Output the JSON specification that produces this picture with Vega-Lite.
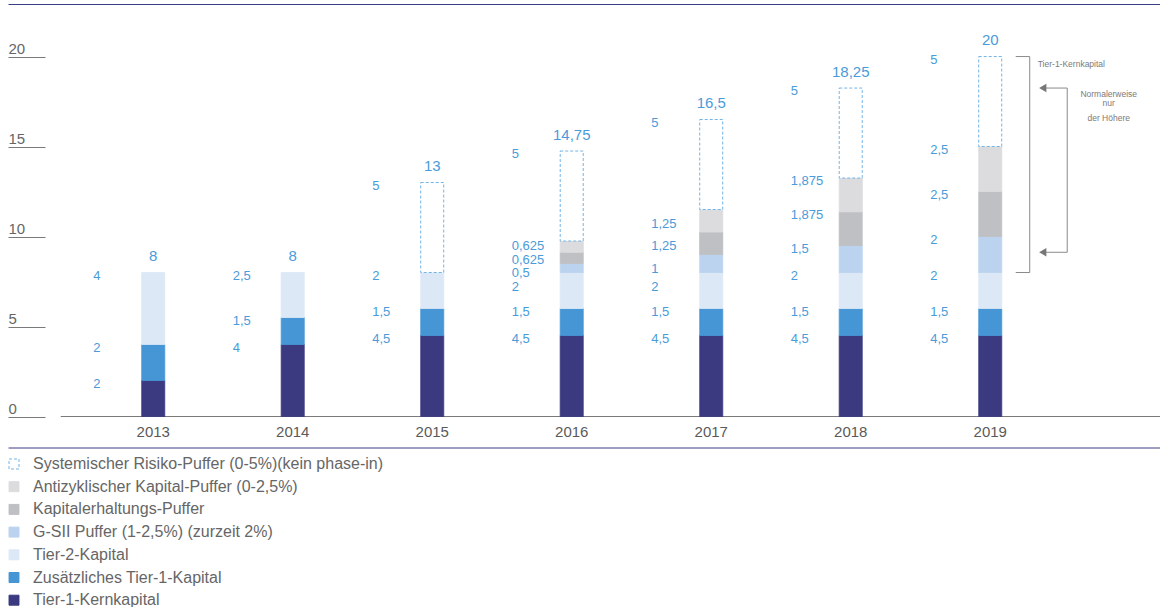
{
  "$schema": "https://vega.github.io/schema/vega-lite/v6.json",
  "width": 1152,
  "height": 412.5,
  "autosize": {"type": "none"},
  "padding": {"left": 8, "top": 4, "right": 0, "bottom": 190.5},
  "background": "white",
  "config": {
    "view": {"stroke": null},
    "font": "Liberation Sans",
    "locale": {"number": {"decimal": ",", "thousands": ".", "grouping": [3], "currency": ["", " €"]}}
  },
  "datasets": {
    "stackorder": [
      {"series": "Tier-1-Kernkapital", "rank": 1},
      {"series": "Zusätzliches Tier-1-Kapital", "rank": 2},
      {"series": "Tier-2-Kapital", "rank": 3},
      {"series": "G-SII Puffer (1-2,5%) (zurzeit 2%)", "rank": 4},
      {"series": "Kapitalerhaltungs-Puffer", "rank": 5},
      {"series": "Antizyklischer Kapital-Puffer (0-2,5%)", "rank": 6},
      {"series": "Systemischer Risiko-Puffer (0-5%)(kein phase-in)", "rank": 7}
    ],
    "capital": [
      {"year": "2013", "series": "Tier-1-Kernkapital", "value": 2},
      {"year": "2013", "series": "Zusätzliches Tier-1-Kapital", "value": 2},
      {"year": "2013", "series": "Tier-2-Kapital", "value": 4},
      {"year": "2014", "series": "Tier-1-Kernkapital", "value": 4},
      {"year": "2014", "series": "Zusätzliches Tier-1-Kapital", "value": 1.5},
      {"year": "2014", "series": "Tier-2-Kapital", "value": 2.5},
      {"year": "2015", "series": "Tier-1-Kernkapital", "value": 4.5},
      {"year": "2015", "series": "Zusätzliches Tier-1-Kapital", "value": 1.5},
      {"year": "2015", "series": "Tier-2-Kapital", "value": 2},
      {"year": "2015", "series": "Systemischer Risiko-Puffer (0-5%)(kein phase-in)", "value": 5},
      {"year": "2016", "series": "Tier-1-Kernkapital", "value": 4.5},
      {"year": "2016", "series": "Zusätzliches Tier-1-Kapital", "value": 1.5},
      {"year": "2016", "series": "Tier-2-Kapital", "value": 2},
      {"year": "2016", "series": "G-SII Puffer (1-2,5%) (zurzeit 2%)", "value": 0.5},
      {"year": "2016", "series": "Kapitalerhaltungs-Puffer", "value": 0.625},
      {"year": "2016", "series": "Antizyklischer Kapital-Puffer (0-2,5%)", "value": 0.625},
      {"year": "2016", "series": "Systemischer Risiko-Puffer (0-5%)(kein phase-in)", "value": 5},
      {"year": "2017", "series": "Tier-1-Kernkapital", "value": 4.5},
      {"year": "2017", "series": "Zusätzliches Tier-1-Kapital", "value": 1.5},
      {"year": "2017", "series": "Tier-2-Kapital", "value": 2},
      {"year": "2017", "series": "G-SII Puffer (1-2,5%) (zurzeit 2%)", "value": 1},
      {"year": "2017", "series": "Kapitalerhaltungs-Puffer", "value": 1.25},
      {"year": "2017", "series": "Antizyklischer Kapital-Puffer (0-2,5%)", "value": 1.25},
      {"year": "2017", "series": "Systemischer Risiko-Puffer (0-5%)(kein phase-in)", "value": 5},
      {"year": "2018", "series": "Tier-1-Kernkapital", "value": 4.5},
      {"year": "2018", "series": "Zusätzliches Tier-1-Kapital", "value": 1.5},
      {"year": "2018", "series": "Tier-2-Kapital", "value": 2},
      {"year": "2018", "series": "G-SII Puffer (1-2,5%) (zurzeit 2%)", "value": 1.5},
      {"year": "2018", "series": "Kapitalerhaltungs-Puffer", "value": 1.875},
      {"year": "2018", "series": "Antizyklischer Kapital-Puffer (0-2,5%)", "value": 1.875},
      {"year": "2018", "series": "Systemischer Risiko-Puffer (0-5%)(kein phase-in)", "value": 5},
      {"year": "2019", "series": "Tier-1-Kernkapital", "value": 4.5},
      {"year": "2019", "series": "Zusätzliches Tier-1-Kapital", "value": 1.5},
      {"year": "2019", "series": "Tier-2-Kapital", "value": 2},
      {"year": "2019", "series": "G-SII Puffer (1-2,5%) (zurzeit 2%)", "value": 2},
      {"year": "2019", "series": "Kapitalerhaltungs-Puffer", "value": 2.5},
      {"year": "2019", "series": "Antizyklischer Kapital-Puffer (0-2,5%)", "value": 2.5},
      {"year": "2019", "series": "Systemischer Risiko-Puffer (0-5%)(kein phase-in)", "value": 5}
    ]
  },
  "data": {"name": "capital"},
  "transform": [
    {"lookup": "series", "from": {"data": {"name": "stackorder"}, "key": "series", "fields": ["rank"]}},
    {"stack": "value", "groupby": ["year"], "sort": [{"field": "rank", "order": "ascending"}], "as": ["v0", "v1"]}
  ],
  "layer": [
    {
      "data": {"values": [{}]},
      "mark": {"type": "rule", "color": "#7a7a7a", "strokeWidth": 1, "xOffset": -92.5, "x2Offset": 170.5},
      "encoding": {
        "x": {"datum": "2013", "type": "ordinal", "bandPosition": 0.5, "axis": null},
        "x2": {"datum": "2019", "bandPosition": 0.5},
        "y": {"datum": 0, "type": "quantitative"}
      }
    },
    {
      "mark": {"type": "bar", "size": 23, "strokeWidth": 1},
      "encoding": {
        "x": {
          "field": "year", "type": "ordinal",
          "scale": {"domain": ["2013", "2014", "2015", "2016", "2017", "2018", "2019"], "paddingInner": 0.742, "paddingOuter": 1, "align": 0.456},
          "axis": {"orient": "bottom", "offset": 31, "ticks": false, "tickSize": 0, "labelPadding": -16, "labelBaseline": "middle", "labelAngle": 0, "labelFontSize": 15, "labelColor": "#5a5a5a", "domainColor": "#3b3d82", "domainWidth": 1, "title": null}
        },
        "y": {
          "field": "v1", "type": "quantitative",
          "scale": {"domain": [0, 22.92], "nice": false},
          "axis": {"orient": "left", "offset": -37, "tickSize": 37, "tickColor": "#7a7a7a", "tickWidth": 1, "domain": false, "grid": false, "values": [0, 5, 10, 15, 20], "labelAlign": "left", "labelBaseline": "alphabetic", "labelPadding": 0, "labelOffset": -3, "labelFontSize": 15, "labelColor": "#666666", "labelFlush": false, "title": null}
        },
        "y2": {"field": "v0"},
        "fill": {
          "field": "series", "type": "nominal",
          "scale": {
            "domain": ["Tier-1-Kernkapital", "Zusätzliches Tier-1-Kapital", "Tier-2-Kapital", "G-SII Puffer (1-2,5%) (zurzeit 2%)", "Kapitalerhaltungs-Puffer", "Antizyklischer Kapital-Puffer (0-2,5%)", "Systemischer Risiko-Puffer (0-5%)(kein phase-in)"],
            "range": ["#3b3a80", "#4696d6", "#dce8f6", "#bcd3ef", "#bfc0c3", "#dcdcde", "#ffffff"]
          },
          "legend": {
            "title": null, "orient": "none", "legendX": -2, "legendY": 452, "padding": 0,
            "values": ["Systemischer Risiko-Puffer (0-5%)(kein phase-in)", "Antizyklischer Kapital-Puffer (0-2,5%)", "Kapitalerhaltungs-Puffer", "G-SII Puffer (1-2,5%) (zurzeit 2%)", "Tier-2-Kapital", "Zusätzliches Tier-1-Kapital", "Tier-1-Kernkapital"],
            "symbolType": "square", "symbolSize": 100, "symbolStrokeWidth": 1,
            "labelFontSize": 16, "labelColor": "#666666", "labelOffset": 11, "rowPadding": 6.7, "labelLimit": 600
          }
        },
        "stroke": {
          "field": "series", "type": "nominal",
          "scale": {
            "domain": ["Tier-1-Kernkapital", "Zusätzliches Tier-1-Kapital", "Tier-2-Kapital", "G-SII Puffer (1-2,5%) (zurzeit 2%)", "Kapitalerhaltungs-Puffer", "Antizyklischer Kapital-Puffer (0-2,5%)", "Systemischer Risiko-Puffer (0-5%)(kein phase-in)"],
            "range": ["#3b3a80", "#4696d6", "#dce8f6", "#bcd3ef", "#bfc0c3", "#dcdcde", "#72b4e6"]
          },
          "legend": {
            "title": null, "orient": "none", "legendX": -2, "legendY": 452, "padding": 0,
            "values": ["Systemischer Risiko-Puffer (0-5%)(kein phase-in)", "Antizyklischer Kapital-Puffer (0-2,5%)", "Kapitalerhaltungs-Puffer", "G-SII Puffer (1-2,5%) (zurzeit 2%)", "Tier-2-Kapital", "Zusätzliches Tier-1-Kapital", "Tier-1-Kernkapital"],
            "symbolType": "square", "symbolSize": 100, "symbolStrokeWidth": 1,
            "labelFontSize": 16, "labelColor": "#666666", "labelOffset": 11, "rowPadding": 6.7, "labelLimit": 600
          }
        },
        "strokeDash": {
          "field": "series", "type": "nominal",
          "scale": {
            "domain": ["Tier-1-Kernkapital", "Zusätzliches Tier-1-Kapital", "Tier-2-Kapital", "G-SII Puffer (1-2,5%) (zurzeit 2%)", "Kapitalerhaltungs-Puffer", "Antizyklischer Kapital-Puffer (0-2,5%)", "Systemischer Risiko-Puffer (0-5%)(kein phase-in)"],
            "range": [[1, 0], [1, 0], [1, 0], [1, 0], [1, 0], [1, 0], [3, 2]]
          },
          "legend": {
            "title": null, "orient": "none", "legendX": -2, "legendY": 452, "padding": 0,
            "values": ["Systemischer Risiko-Puffer (0-5%)(kein phase-in)", "Antizyklischer Kapital-Puffer (0-2,5%)", "Kapitalerhaltungs-Puffer", "G-SII Puffer (1-2,5%) (zurzeit 2%)", "Tier-2-Kapital", "Zusätzliches Tier-1-Kapital", "Tier-1-Kernkapital"],
            "symbolType": "square", "symbolSize": 100, "symbolStrokeWidth": 1,
            "labelFontSize": 16, "labelColor": "#666666", "labelOffset": 11, "rowPadding": 6.7, "labelLimit": 600
          }
        }
      }
    },
    {
      "transform": [{"filter": {"not": {"and": [{"field": "year", "oneOf": ["2016", "2017"]}, {"field": "rank", "oneOf": [3, 4, 5, 6]}]}}}],
      "mark": {"type": "text", "align": "left", "baseline": "middle", "dx": -60, "dy": 3, "fontSize": 13, "color": "#4a9bd9"},
      "encoding": {
        "x": {"field": "year", "type": "ordinal", "axis": null},
        "y": {"field": "v1", "type": "quantitative"},
        "text": {"field": "value", "type": "quantitative", "format": "~g"}
      }
    },
    {
      "transform": [{"filter": {"or": [{"and": [{"field": "year", "equal": "2017"}, {"field": "rank", "oneOf": [3, 4, 5, 6]}]}, {"and": [{"field": "year", "equal": "2016"}, {"field": "rank", "equal": 3}]}]}}],
      "mark": {"type": "text", "align": "left", "baseline": "middle", "dx": -60, "dy": 14, "fontSize": 13, "color": "#4a9bd9"},
      "encoding": {
        "x": {"field": "year", "type": "ordinal", "axis": null},
        "y": {"field": "v1", "type": "quantitative"},
        "text": {"field": "value", "type": "quantitative", "format": "~g"}
      }
    },
    {
      "transform": [{"filter": {"and": [{"field": "year", "equal": "2016"}, {"field": "rank", "equal": 4}]}}],
      "mark": {"type": "text", "align": "left", "baseline": "middle", "dx": -60, "dy": 9.8, "fontSize": 13, "color": "#4a9bd9"},
      "encoding": {
        "x": {"field": "year", "type": "ordinal", "axis": null},
        "y": {"field": "v1", "type": "quantitative"},
        "text": {"field": "value", "type": "quantitative", "format": "~g"}
      }
    },
    {
      "transform": [{"filter": {"and": [{"field": "year", "equal": "2016"}, {"field": "rank", "equal": 5}]}}],
      "mark": {"type": "text", "align": "left", "baseline": "middle", "dx": -60, "dy": 8, "fontSize": 13, "color": "#4a9bd9"},
      "encoding": {
        "x": {"field": "year", "type": "ordinal", "axis": null},
        "y": {"field": "v1", "type": "quantitative"},
        "text": {"field": "value", "type": "quantitative", "format": "~g"}
      }
    },
    {
      "transform": [{"filter": {"and": [{"field": "year", "equal": "2016"}, {"field": "rank", "equal": 6}]}}],
      "mark": {"type": "text", "align": "left", "baseline": "middle", "dx": -60, "dy": 5, "fontSize": 13, "color": "#4a9bd9"},
      "encoding": {
        "x": {"field": "year", "type": "ordinal", "axis": null},
        "y": {"field": "v1", "type": "quantitative"},
        "text": {"field": "value", "type": "quantitative", "format": "~g"}
      }
    },
    {
      "transform": [{"aggregate": [{"op": "max", "field": "v1", "as": "total"}], "groupby": ["year"]}],
      "mark": {"type": "text", "align": "center", "baseline": "middle", "dy": -16.5, "fontSize": 15, "color": "#4a9bd9"},
      "encoding": {
        "x": {"field": "year", "type": "ordinal", "axis": {"orient": "top", "labels": false, "ticks": false, "domainColor": "#3b3d82", "domainWidth": 1, "title": null}},
        "y": {"field": "total", "type": "quantitative"},
        "text": {"field": "total", "type": "quantitative", "format": "~g"}
      }
    },
    {
      "data": {"values": [{}]},
      "mark": {"type": "rule", "color": "#8a8a8a", "strokeWidth": 1, "xOffset": 39.5},
      "encoding": {
        "x": {"datum": "2019", "type": "ordinal", "bandPosition": 0.5, "axis": null},
        "y": {"datum": 20, "type": "quantitative"},
        "y2": {"datum": 8}
      }
    },
    {
      "data": {"values": [{}]},
      "mark": {"type": "rule", "color": "#8a8a8a", "strokeWidth": 1, "xOffset": 25.5, "x2Offset": 39.5},
      "encoding": {
        "x": {"datum": "2019", "type": "ordinal", "bandPosition": 0.5, "axis": null},
        "x2": {"datum": "2019", "bandPosition": 0.5},
        "y": {"datum": 20, "type": "quantitative"}
      }
    },
    {
      "data": {"values": [{}]},
      "mark": {"type": "rule", "color": "#8a8a8a", "strokeWidth": 1, "xOffset": 25.5, "x2Offset": 39.5},
      "encoding": {
        "x": {"datum": "2019", "type": "ordinal", "bandPosition": 0.5, "axis": null},
        "x2": {"datum": "2019", "bandPosition": 0.5},
        "y": {"datum": 8, "type": "quantitative"}
      }
    },
    {
      "data": {"values": [{}]},
      "mark": {"type": "rule", "color": "#8a8a8a", "strokeWidth": 1, "xOffset": 77},
      "encoding": {
        "x": {"datum": "2019", "type": "ordinal", "bandPosition": 0.5, "axis": null},
        "y": {"datum": 18.25, "type": "quantitative"},
        "y2": {"datum": 9.125}
      }
    },
    {
      "data": {"values": [{}]},
      "mark": {"type": "rule", "color": "#8a8a8a", "strokeWidth": 1, "xOffset": 52, "x2Offset": 77},
      "encoding": {
        "x": {"datum": "2019", "type": "ordinal", "bandPosition": 0.5, "axis": null},
        "x2": {"datum": "2019", "bandPosition": 0.5},
        "y": {"datum": 18.25, "type": "quantitative"}
      }
    },
    {
      "data": {"values": [{}]},
      "mark": {"type": "rule", "color": "#8a8a8a", "strokeWidth": 1, "xOffset": 52, "x2Offset": 77},
      "encoding": {
        "x": {"datum": "2019", "type": "ordinal", "bandPosition": 0.5, "axis": null},
        "x2": {"datum": "2019", "bandPosition": 0.5},
        "y": {"datum": 9.125, "type": "quantitative"}
      }
    },
    {
      "data": {"values": [{}]},
      "mark": {"type": "point", "shape": "triangle-left", "filled": true, "size": 70, "color": "#777777", "opacity": 1, "xOffset": 52.5},
      "encoding": {
        "x": {"datum": "2019", "type": "ordinal", "bandPosition": 0.5, "axis": null},
        "y": {"datum": 18.25, "type": "quantitative"}
      }
    },
    {
      "data": {"values": [{}]},
      "mark": {"type": "point", "shape": "triangle-left", "filled": true, "size": 70, "color": "#777777", "opacity": 1, "xOffset": 52.5},
      "encoding": {
        "x": {"datum": "2019", "type": "ordinal", "bandPosition": 0.5, "axis": null},
        "y": {"datum": 9.125, "type": "quantitative"}
      }
    },
    {
      "data": {"values": [{}]},
      "mark": {"type": "text", "text": "Tier-1-Kernkapital", "align": "left", "baseline": "middle", "dx": 47.5, "dy": 7, "fontSize": 8.5, "color": "#7a7a7a"},
      "encoding": {
        "x": {"datum": "2019", "type": "ordinal", "bandPosition": 0.5, "axis": null},
        "y": {"datum": 20, "type": "quantitative"}
      }
    },
    {
      "data": {"values": [{}]},
      "mark": {"type": "text", "text": "Normalerweise", "align": "center", "baseline": "middle", "dx": 118.5, "dy": 5.7, "fontSize": 8.5, "color": "#7a7a7a"},
      "encoding": {
        "x": {"datum": "2019", "type": "ordinal", "bandPosition": 0.5, "axis": null},
        "y": {"datum": 18.25, "type": "quantitative"}
      }
    },
    {
      "data": {"values": [{}]},
      "mark": {"type": "text", "text": "nur", "align": "center", "baseline": "middle", "dx": 118.5, "dy": 15.4, "fontSize": 8.5, "color": "#7a7a7a"},
      "encoding": {
        "x": {"datum": "2019", "type": "ordinal", "bandPosition": 0.5, "axis": null},
        "y": {"datum": 18.25, "type": "quantitative"}
      }
    },
    {
      "data": {"values": [{}]},
      "mark": {"type": "text", "text": "der Höhere", "align": "center", "baseline": "middle", "dx": 118.5, "dy": 30.4, "fontSize": 8.5, "color": "#7a7a7a"},
      "encoding": {
        "x": {"datum": "2019", "type": "ordinal", "bandPosition": 0.5, "axis": null},
        "y": {"datum": 18.25, "type": "quantitative"}
      }
    }
  ],
  "resolve": {"axis": {"x": "independent"}}
}
